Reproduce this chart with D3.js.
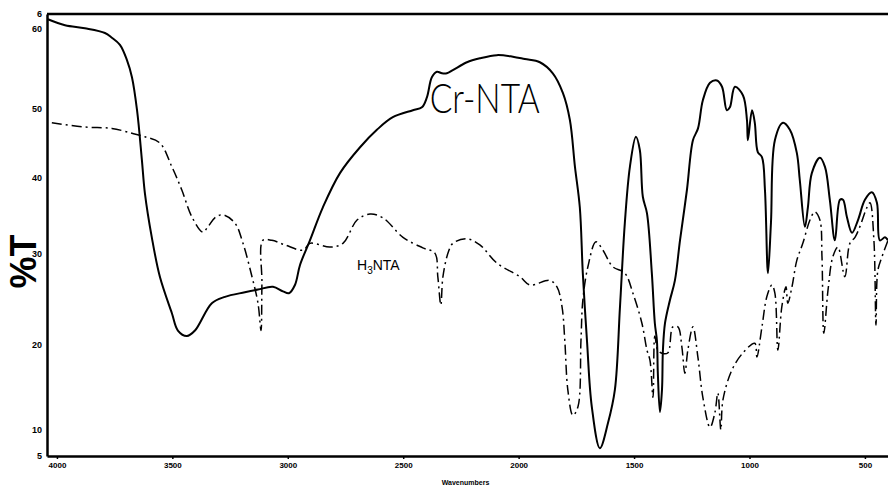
<!DOCTYPE html>
<html>
<head>
<meta charset="utf-8">
<script src="https://cdn.jsdelivr.net/npm/d3@7"></script>
<style>
  body { margin: 0; background: #fff; }
  svg { display: block; }
  .tick text { font-family: "Liberation Sans", Arial, sans-serif; font-weight: bold; }
</style>
</head>
<body>
<svg id="chart"></svg>
<script>
//SET CONSTANTS
const width = 888;
const height = 487;
const margin = {top: 14, right: 0, bottom: 31, left: 47};

// wavenumber (cm-1) and %T
const crWave = [4039, 3965, 3879, 3792, 3762, 3727, 3697, 3675, 3653, 3632, 3619, 3589, 3554, 3502, 3476, 3437, 3402, 3329, 3272, 3186,
  3129, 3064, 3021, 2995, 2969, 2947, 2904, 2848, 2774, 2687, 2614, 2545, 2458, 2419, 2397, 2376, 2354, 2332, 2311, 2285,
  2224, 2168, 2094, 2025, 1973, 1908, 1852, 1808, 1778, 1756, 1735, 1722, 1704, 1683, 1648, 1613, 1583, 1561, 1540, 1518,
  1492, 1475, 1462, 1444, 1423, 1410, 1401, 1397, 1388, 1379, 1375, 1366, 1345, 1323, 1301, 1271, 1245, 1223, 1202, 1171,
  1141, 1119, 1098, 1085, 1063, 1028, 1011, 1007, 989, 977, 964, 946, 933, 920, 907, 890, 855, 825, 795, 782,
  760, 747, 730, 695, 673, 652, 630, 608, 595, 578, 556, 530, 500, 470, 448, 435, 413, 400];
const crT = [61.3, 60.5, 60.1, 59.5, 58.9, 58.0, 56.1, 53.9, 49.7, 42.6, 38.0, 32.1, 27.4, 23.4, 21.5, 20.9, 21.5, 24.5, 25.2, 25.7,
  26.0, 26.3, 25.8, 25.6, 26.5, 28.7, 31.7, 36.1, 40.7, 44.4, 46.9, 48.7, 49.7, 50.1, 51.4, 53.9, 54.6, 54.4, 54.4, 54.8,
  55.8, 56.3, 56.7, 56.5, 56.2, 55.8, 54.4, 51.9, 48.3, 41.6, 36.1, 27.8, 20.4, 12.7, 6.5, 10.8, 14.7, 24.1, 34.0, 41.6,
  45.9, 44.0, 37.5, 35.3, 27.8, 22.3, 20.4, 16.6, 12.1, 14.7, 19.3, 22.3, 24.8, 27.0, 31.7, 38.4, 45.4, 47.1, 51.0, 53.2,
  53.5, 52.7, 49.7, 50.1, 52.7, 51.6, 48.3, 45.4, 49.7, 47.9, 43.7, 43.0, 38.4, 27.8, 34.0, 45.4, 47.9, 46.9, 43.6, 39.7,
  33.5, 36.1, 40.7, 42.9, 41.6, 37.1, 31.7, 37.1, 37.1, 34.8, 32.7, 34.4, 37.1, 38.1, 36.7, 31.7, 32.1, 31.7];

const h3Wave = [4022, 3879, 3762, 3675, 3619, 3554, 3502, 3459, 3415, 3368, 3346, 3316, 3281, 3229, 3194, 3155, 3129, 3116, 3112, 3108,
  3069, 3012, 2934, 2904, 2817, 2761, 2700, 2644, 2588, 2501, 2415, 2363, 2350, 2337, 2328, 2306, 2285, 2224, 2168, 2094,
  1994, 1951, 1865, 1834, 1812, 1800, 1787, 1765, 1743, 1730, 1722, 1700, 1665, 1635, 1592, 1540, 1505, 1466, 1444, 1431,
  1418, 1410, 1397, 1375, 1353, 1332, 1310, 1293, 1280, 1267, 1245, 1223, 1202, 1171, 1150, 1137, 1124, 1115, 1076, 1028,
  977, 968, 946, 925, 903, 890, 877, 860, 842, 834, 816, 795, 769, 738, 717, 695, 686, 678, 660, 639,
  617, 587, 565, 543, 522, 491, 478, 461, 452, 444, 426, 400];
const h3T = [47.9, 47.3, 47.1, 46.4, 45.9, 45.0, 41.6, 38.4, 34.8, 32.8, 33.5, 34.7, 35.1, 34.0, 31.3, 27.4, 24.5, 21.5, 26.7, 31.7,
  31.7, 31.1, 30.4, 31.3, 30.8, 31.3, 34.4, 35.2, 34.7, 32.1, 30.7, 30.0, 27.4, 24.3, 27.4, 30.0, 31.3, 31.9, 31.1, 28.9,
  27.4, 26.5, 27.0, 26.3, 24.1, 20.4, 14.7, 11.7, 12.7, 20.4, 24.8, 28.5, 31.5, 30.4, 28.5, 27.8, 25.6, 22.3, 19.3, 18.1,
  13.8, 20.9, 19.3, 18.9, 19.0, 21.9, 21.9, 19.7, 16.6, 19.3, 21.9, 18.4, 13.8, 10.3, 12.0, 14.3, 10.0, 13.5, 17.0, 19.0,
  20.1, 18.5, 21.9, 25.2, 26.5, 25.6, 19.3, 24.1, 26.3, 24.5, 26.3, 29.2, 31.3, 34.4, 35.5, 34.4, 29.6, 21.2, 25.9, 29.6,
  30.8, 27.4, 31.3, 32.1, 33.5, 36.1, 36.7, 31.7, 22.1, 28.1, 29.6, 31.7];

const xTicks = [4000, 3500, 3000, 2500, 2000, 1500, 1000, 500];
const xTickText = ["4000", "3500", "3000", "2500", "2000", "1500", "1000", "500"];
const yTicks = [5, 10, 20, 30, 40, 50, 60, 62];
const yTickText = ["5", "10", "20", "30", "40", "50", "60", "6"];

const innerH = height - margin.top - margin.bottom;

var xScale = d3.scaleLinear()
  .domain([4043, 400])
  .range([margin.left, width - margin.right]);

// the scanned axis is not evenly spaced, so follow its printed ticks
var yScale = d3.scaleLinear()
  .domain([5, 10, 20, 30, 40, 50, 60, 62])
  .range([0, 0.059, 0.253, 0.459, 0.629, 0.787, 0.966, 1].map(f => margin.top + innerH * (1 - f)));

var chart = d3.select("#chart")
  .attr("width", width)
  .attr("height", height);

//frame
chart.append("line")
  .attr("x1", margin.left).attr("x2", width)
  .attr("y1", margin.top).attr("y2", margin.top)
  .attr("stroke", "#000").attr("stroke-width", 2.5);

//axes
var xAxis = chart.append("g")
  .attr("transform", "translate(0," + (margin.top + innerH) + ")")
  .call(d3.axisBottom(xScale).tickValues(xTicks).tickSize(3).tickSizeOuter(0)
    .tickFormat((d, i) => xTickText[i]));
xAxis.select(".domain").attr("stroke-width", 2.5);
xAxis.selectAll(".tick line").attr("stroke-width", 1.5);
xAxis.selectAll("text").attr("font-size", 8).attr("dy", "0.6em").attr("y", 7);

var yAxis = chart.append("g")
  .attr("transform", "translate(" + margin.left + ",0)")
  .call(d3.axisLeft(yScale).tickValues(yTicks).tickSize(0).tickSizeOuter(0)
    .tickFormat((d, i) => yTickText[i]));
yAxis.select(".domain").attr("stroke-width", 2.5);
yAxis.selectAll("text").attr("font-size", 9).attr("x", -5);

//axis titles
chart.append("text")
  .attr("transform", "translate(36," + (margin.top + innerH * 0.56) + ") rotate(-90)")
  .attr("text-anchor", "middle")
  .attr("font-family", "Liberation Sans, Arial, sans-serif")
  .attr("font-size", 36)
  .attr("font-weight", "bold")
  .text("%T");

chart.append("text")
  .attr("x", xScale(2230))
  .attr("y", height - 2)
  .attr("text-anchor", "middle")
  .attr("font-family", "Liberation Sans, Arial, sans-serif")
  .attr("font-size", 7)
  .attr("font-weight", "bold")
  .text("Wavenumbers");

//spectra
var line = d3.line()
  .x(d => xScale(d[0]))
  .y(d => yScale(d[1]))
  .curve(d3.curveCatmullRom.alpha(0.5));

chart.append("path")
  .datum(h3Wave.map((w, i) => [w, h3T[i]]))
  .attr("d", line)
  .attr("fill", "none")
  .attr("stroke", "#000")
  .attr("stroke-width", 1.5)
  .attr("stroke-dasharray", "10,4,2,4");

chart.append("path")
  .datum(crWave.map((w, i) => [w, crT[i]]))
  .attr("d", line)
  .attr("fill", "none")
  .attr("stroke", "#000")
  .attr("stroke-width", 2);

//labels
chart.append("text")
  .attr("x", xScale(2385))
  .attr("y", yScale(49.3))
  .attr("font-family", "Lato, 'Open Sans', sans-serif")
  .attr("font-size", 42)
  .attr("font-weight", 300)
  .attr("textLength", 110)
  .attr("lengthAdjust", "spacingAndGlyphs")
  .text("Cr-NTA");

var h3 = chart.append("text")
  .attr("x", xScale(2700))
  .attr("y", yScale(28.1))
  .attr("font-family", "Liberation Sans, Arial, sans-serif")
  .attr("font-size", 14);
h3.append("tspan").text("H");
h3.append("tspan").attr("font-size", 10).attr("dy", 4).text("3");
h3.append("tspan").attr("dy", -4).text("NTA");
</script>
</body>
</html>
